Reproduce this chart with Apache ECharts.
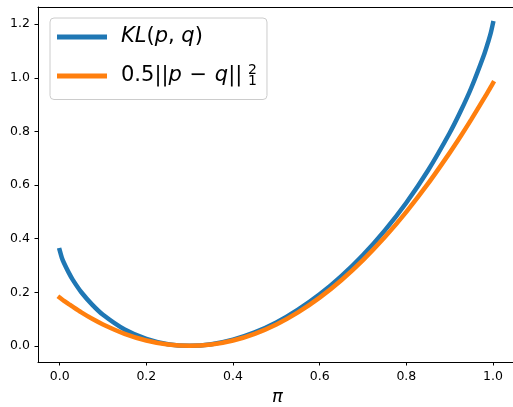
<!DOCTYPE html>
<html>
<head>
<meta charset="utf-8">
<script src="https://cdn.jsdelivr.net/npm/echarts@6/dist/echarts.min.js"></script>
<style>
  html, body { margin: 0; padding: 0; background: #fff; }
  #chart { width: 513px; height: 407px; }
</style>
</head>
<body>
<div id="chart"></div>
<script>
// values
const pi = [0, 0.005, 0.01, 0.02, 0.03, 0.05, 0.075, 0.1, 0.15, 0.2, 0.25, 0.3, 0.35,
  0.4, 0.45, 0.5, 0.55, 0.6, 0.65, 0.7, 0.75, 0.8, 0.85, 0.9, 0.925, 0.95, 0.98,
  0.99, 0.995, 1];
const klValues = [0.357, 0.329, 0.309, 0.276, 0.247, 0.200, 0.154, 0.116, 0.061,
  0.026, 0.006, 0, 0.006, 0.023, 0.050, 0.087, 0.135, 0.192, 0.260, 0.339, 0.430,
  0.534, 0.654, 0.794, 0.874, 0.963, 1.089, 1.140, 1.168, 1.204];
const l1Values = [0.180, 0.174, 0.168, 0.157, 0.146, 0.125, 0.101, 0.080, 0.045,
  0.020, 0.005, 0, 0.005, 0.020, 0.045, 0.080, 0.125, 0.180, 0.245, 0.320, 0.405,
  0.500, 0.605, 0.720, 0.781, 0.845, 0.925, 0.952, 0.966, 0.980];
const xTicks = [0, 0.2, 0.4, 0.6, 0.8, 1.0];
const yTicks = [0, 0.2, 0.4, 0.6, 0.8, 1.0, 1.2];
const seriesNames = ['KL', 'L1'];

const FONT = 'DejaVu Sans';
const tickLabel = { fontFamily: FONT, fontSize: 12.5, color: '#000' };
const spine = { show: true, onZero: false, lineStyle: { color: '#000', width: 1 } };
// the right spine of the original falls just outside the picture
const X_MIN = -0.05;
const X_MAX = 1.0462;

const chart = echarts.init(document.getElementById('chart'));

const legendText = {
  KL: '{i0|KL}{n|(}{i|p}{n|, }{i|q}{n|)}',
  L1: '{n0|0.5||}{i|p}{op| − }{i|q}{n|||} ',
};

chart.setOption({
  animation: false,
  grid: {
    left: 38,
    top: 7,
    width: 475,
    height: 355,
    outerBoundsMode: 'none',
  },
  xAxis: [
    {
      type: 'value',
      min: X_MIN,
      max: X_MAX,
      splitLine: { show: false },
      axisLine: spine,
      axisTick: { length: 3.5, lineStyle: { color: '#000' }, customValues: xTicks },
      axisLabel: {
        ...tickLabel,
        margin: 8,
        customValues: xTicks,
        formatter: (v) => v.toFixed(1),
      },
      name: 'π',
      nameLocation: 'middle',
      nameGap: 26,
      nameTextStyle: { fontFamily: FONT, fontStyle: 'italic', fontSize: 18, color: '#000', padding: [0, 0, 0, 4] },
    },
    {
      type: 'value',
      position: 'top',
      min: X_MIN,
      max: X_MAX,
      splitLine: { show: false },
      axisLine: spine,
      axisTick: { show: false },
      axisLabel: { show: false },
    },
  ],
  yAxis: {
    type: 'value',
    min: -0.0602,
    max: 1.2642,
    splitLine: { show: false },
    axisLine: spine,
    axisTick: { show: true, length: 3.5, lineStyle: { color: '#000' }, customValues: yTicks },
    axisLabel: {
      ...tickLabel,
      margin: 8,
      customValues: yTicks,
      formatter: (v) => v.toFixed(1),
    },
  },
  legend: {
    orient: 'vertical',
    left: 50,
    top: 18,
    padding: [8.5, 18, 13, 7],
    itemGap: 18,
    itemWidth: 50,
    itemHeight: 5,
    icon: 'rect',
    backgroundColor: 'rgba(255,255,255,0.8)',
    borderColor: '#cccccc',
    borderWidth: 1,
    borderRadius: 4,
    data: seriesNames,
    formatter: (name) => legendText[name],
    textStyle: {
      fontFamily: FONT,
      fontSize: 21,
      color: '#000',
      rich: {
        n: { fontFamily: FONT, fontSize: 21, color: '#000' },
        op: { fontFamily: FONT, fontSize: 21, color: '#000', padding: [0, 1, 0, 1] },
        n0: { fontFamily: FONT, fontSize: 21, color: '#000', padding: [0, 0, 0, 9] },
        i: { fontFamily: FONT, fontStyle: 'italic', fontSize: 21, color: '#000' },
        i0: { fontFamily: FONT, fontStyle: 'italic', fontSize: 21, color: '#000', padding: [0, 0, 0, 9] },
      },
    },
  },
  graphic: [
    {
      type: 'text', z: 100,
      style: { text: '2', x: 248, y: 70, font: '14px "DejaVu Sans"', fill: '#000', verticalAlign: 'middle' },
    },
    {
      type: 'text', z: 100,
      style: { text: '1', x: 248, y: 81.5, font: '14px "DejaVu Sans"', fill: '#000', verticalAlign: 'middle' },
    },
    // hide the extra edge line at the canvas border (no right spine in the original)
    {
      type: 'rect', z: 100, silent: true,
      shape: { x: 509, y: 8, width: 4, height: 353 },
      style: { fill: '#fff' },
    },
  ],
  series: [
    {
      name: 'KL',
      type: 'line',
      data: pi.map((x, i) => [x, klValues[i]]),
      showSymbol: false,
      smooth: 0.3,
      lineStyle: { color: '#1f77b4', width: 4.5, cap: 'square' },
      itemStyle: { color: '#1f77b4' },
    },
    {
      name: 'L1',
      type: 'line',
      data: pi.map((x, i) => [x, l1Values[i]]),
      showSymbol: false,
      smooth: 0.3,
      lineStyle: { color: '#ff7f0e', width: 4.5, cap: 'square' },
      itemStyle: { color: '#ff7f0e' },
    },
  ],
});
</script>
</body>
</html>
